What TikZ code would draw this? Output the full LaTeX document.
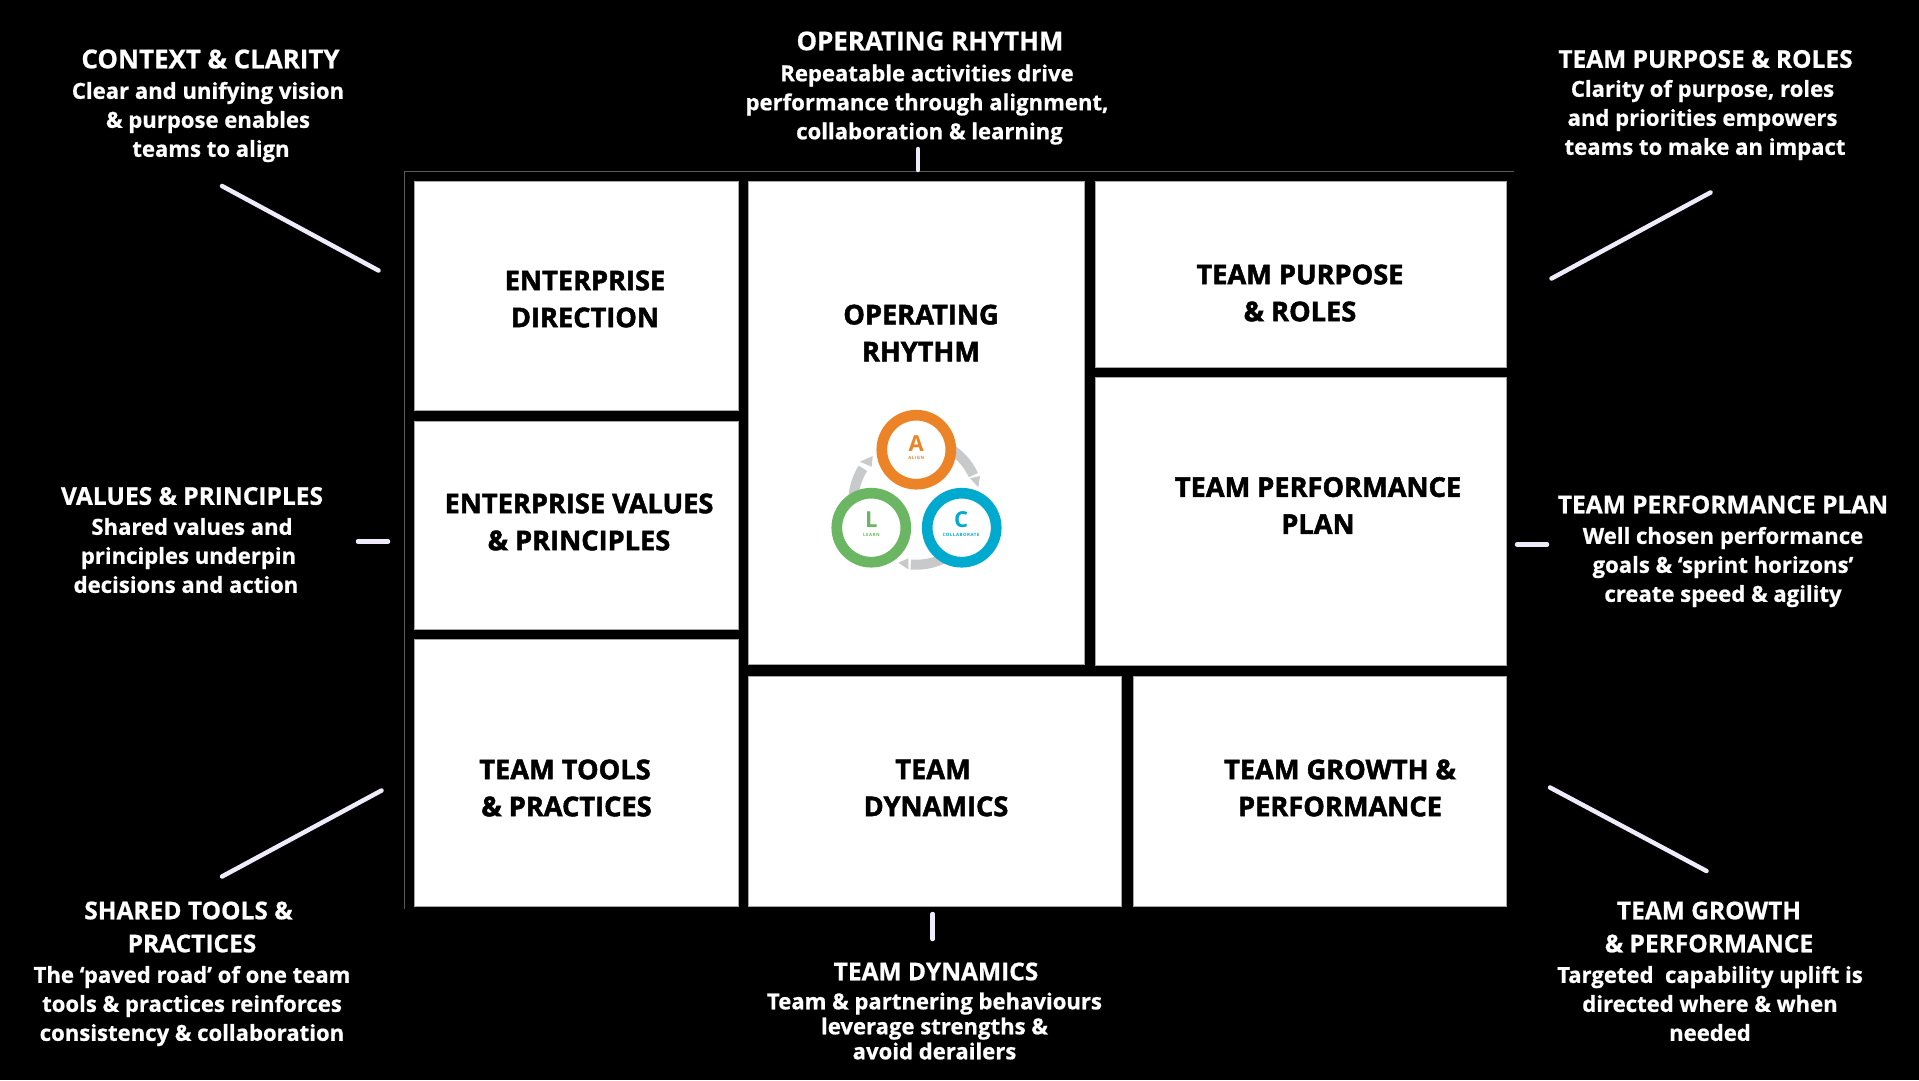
\documentclass[tikz,border=0pt]{standalone}
\usepackage{fontspec}
\setmainfont{Open Sans}
\newfontfamily\xb{Open Sans}[BoldFeatures={FakeBold=1.8}]
\newfontfamily\xc{Open Sans}[BoldFeatures={FakeBold=0.8}]
\newfontfamily\tinylbl{Open Sans}[LetterSpace=12]
\usetikzlibrary{calc}
\definecolor{orangeA}{HTML}{EC8427}
\definecolor{greenL}{HTML}{6BB662}
\definecolor{blueC}{HTML}{00A9CE}
\definecolor{arcgray}{HTML}{C8C9CB}
\definecolor{tickc}{HTML}{EFEBFA}
\tikzset{
  x=1pt,y=-1pt,
  cell/.style={fill=white,draw=black!35,line width=0.4pt,inner sep=0pt,outer sep=0pt},
  captxt/.style={text=black,align=center,inner sep=0pt,font=\xb\fontsize{27.2}{37}\selectfont\bfseries},
  hd/.style={text=white,align=center,inner sep=0pt,font=\xc\fontsize{24.5}{33}\selectfont\bfseries},
  hdl/.style={hd,font=\xc\fontsize{25.9}{33}\selectfont\bfseries},
  bd/.style={text=white,align=center,inner sep=0pt,font=\xc\fontsize{22.1}{29}\selectfont\bfseries},
  bds/.style={bd,font=\xc\fontsize{22.1}{25}\selectfont\bfseries},
  tick/.style={tickc,line width=4.5pt,line cap=round},
  frame/.style={draw=black!65!white,line width=1pt},
  ring/.style={circle,fill=white,inner sep=0pt,outer sep=0pt,minimum size=69pt,line width=10.7pt},
  sect/.style={fill=arcgray,draw=none},
  lbig/.style={inner sep=0pt,font=\fontsize{22}{22}\selectfont\bfseries},
  lsmall/.style={inner sep=0pt,font=\tinylbl\fontsize{4.4}{5}\selectfont\bfseries},
}
\newcommand{\cellbox}[5]{% name, x0,y0,x1,y1
  \path[cell] (#2,#3) rectangle (#4,#5);
  \coordinate (#1) at ({(#2+#4)/2},{(#3+#5)/2});
}
\begin{document}
\begin{tikzpicture}
\path[fill=black] (0,0) rectangle (1919,1080);
\useasboundingbox (0,0) rectangle (1919,1080);
% frame
\coordinate (fa) at (404.5,909);
\coordinate (fb) at (404.5,171.3);
\coordinate (fc) at (1514,171.3);
\draw[frame] (fa) -- (fb) -- (fc);
% cells
\cellbox{ed}{414}{181}{738}{410}
\cellbox{ev}{414}{421}{738}{629}
\cellbox{tt}{414}{639}{738}{906}
\cellbox{or}{748}{181}{1084.5}{664.3}
\cellbox{tp}{1095}{181}{1506}{367}
\cellbox{pp}{1095}{377}{1506}{665}
\cellbox{td}{748}{676}{1121}{906}
\cellbox{tg}{1133}{676}{1506}{906}
% captions
\node[captxt] (ced) at (585,299) {ENTERPRISE\\DIRECTION};
\node[captxt] (cev) at (579,522) {ENTERPRISE VALUES\\\& PRINCIPLES};
\node[captxt] (ctt) at (565,788) {TEAM TOOLS\\\hspace*{3pt}\& PRACTICES};
\node[captxt] (cor) at (921,333) {OPERATING\\RHYTHM};
\node[captxt] (ctd) at (936,788) {TEAM\hspace*{6pt}\\DYNAMICS};
\node[captxt] (ctg) at (1340,788) {TEAM GROWTH \&\\PERFORMANCE};
\node[captxt] (ctp) at (1300,293) {TEAM PURPOSE\\\& ROLES};
\node[captxt] (cpp) at (1318,505.5) {TEAM PERFORMANCE\\PLAN};
% logo arcs
\coordinate (lc) at (916.3,501.7);
\fill[sect] ($(lc)+(58:68pt)$) arc[start angle=58,end angle=25,radius=68pt] -- ($(lc)+(25:58pt)$) arc[start angle=25,end angle=58,radius=58pt] -- cycle;
\fill[sect] (970,478.3) -- (980,476) -- (978.3,487.3) -- cycle;
\fill[sect] ($(lc)+(178:68pt)$) arc[start angle=178,end angle=148,radius=68pt] -- ($(lc)+(148:58pt)$) arc[start angle=148,end angle=178,radius=58pt] -- cycle;
\fill[sect] (860,461.7) -- (872.7,456) -- (871.7,466.7) -- cycle;
\fill[sect] ($(lc)+(-55:68pt)$) arc[start angle=-55,end angle=-95,radius=68pt] -- ($(lc)+(-95:58pt)$) arc[start angle=-95,end angle=-55,radius=58pt] -- cycle;
\fill[sect] (908.3,558.3) -- (908.3,569.3) -- (898.3,562.7) -- cycle;
% logo rings
\node[ring,draw=orangeA] (ra) at (916.3,449.7) {};
\node[ring,draw=greenL] (rl) at (871.3,527.7) {};
\node[ring,draw=blueC] (rc) at (961.7,527.7) {};
\node[lbig,text=orangeA] (la) at (916.3,443.5) {A};
\node[lsmall,text=orangeA] (la2) at (916.3,458) {ALIGN};
\node[lbig,text=greenL] (ll) at (871.3,520) {L};
\node[lsmall,text=greenL] (ll2) at (871.3,535) {LEARN};
\node[lbig,text=blueC] (lcc) at (961,520) {C};
\node[lsmall,text=blueC] (lc2) at (961,535) {COLLABORATE};
% side text
\node[hdl] (h1) at (210.5,59) {CONTEXT \& CLARITY};
\node[bd] (b1) at (208,122) {Clear and unifying vision\\\& purpose enables\\\hspace*{6pt}teams to align};
\node[hdl] (h2) at (930,41) {OPERATING RHYTHM};
\node[bd] (b2) at (927,104.5) {Repeatable activities drive\\performance through alignment,\\\hspace*{5pt}collaboration \& learning};
\node[hd] (h3) at (1705.5,59) {TEAM PURPOSE \& ROLES};
\node[bd] (b3) at (1702.5,120) {Clarity of purpose, roles\\and priorities empowers\\\hspace*{5pt}teams to make an impact};
\node[hd] (h4) at (192,496) {VALUES \& PRINCIPLES};
\node[bd] (b4) at (186,555.5) {\hspace*{12pt}Shared values and\\\hspace*{5pt}principles underpin\\decisions and action};
\node[hd] (h5) at (1723,504.5) {TEAM PERFORMANCE PLAN};
\node[bd] (b5) at (1723,567) {Well chosen performance\\goals \& ‘sprint horizons’\\create speed \& agility};
\node[hd] (h6) at (192,927) {\hspace*{-7pt}SHARED TOOLS \&\\PRACTICES};
\node[bd] (b6) at (192,1006) {The ‘paved road’ of one team\\tools \& practices reinforces\\consistency \& collaboration};
\node[hd] (h7) at (936,971.5) {TEAM DYNAMICS};
\node[bds] (b7) at (934.5,1026) {Team \& partnering behaviours\\leverage strengths \&\\avoid derailers};
\node[hd] (h8) at (1709,927) {TEAM GROWTH\\\& PERFORMANCE};
\node[bd] (b8) at (1710,1003.5) {Targeted\ \ capability uplift is\\directed where \& when\\needed};
% ticks
\coordinate (t1a) at (222,186); \coordinate (t1b) at (378.5,270.5);
\coordinate (t2a) at (918,149); \coordinate (t2b) at (918,170);
\coordinate (t3a) at (1710.5,192.5); \coordinate (t3b) at (1551.5,278.5);
\coordinate (t4a) at (358,541.5); \coordinate (t4b) at (388,541.5);
\coordinate (t5a) at (1517,544.5); \coordinate (t5b) at (1547,544.5);
\coordinate (t6a) at (381.5,790.5); \coordinate (t6b) at (222,876.5);
\coordinate (t7a) at (1550,787.5); \coordinate (t7b) at (1706.5,871);
\coordinate (t8a) at (932.6,914); \coordinate (t8b) at (932.6,939);
\draw[tick] (t1a) -- (t1b);
\draw[tick] (t2a) -- (t2b);
\draw[tick] (t3a) -- (t3b);
\draw[tick] (t4a) -- (t4b);
\draw[tick] (t5a) -- (t5b);
\draw[tick] (t6a) -- (t6b);
\draw[tick] (t7a) -- (t7b);
\draw[tick] (t8a) -- (t8b);
\end{tikzpicture}
\end{document}
